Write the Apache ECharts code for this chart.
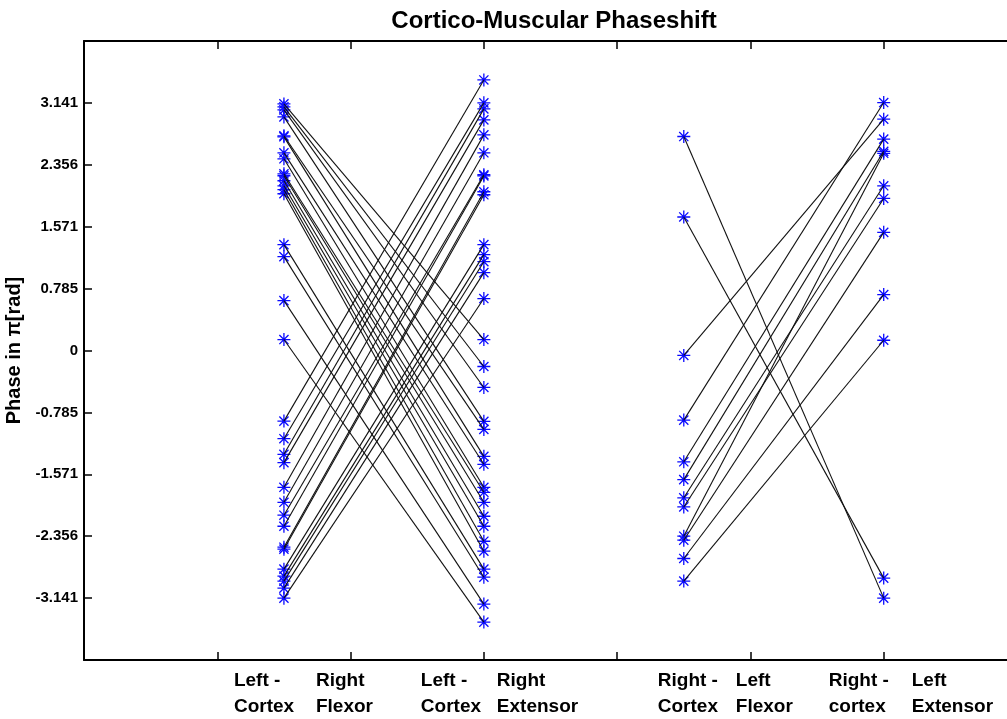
<!DOCTYPE html>
<html>
<head>
<meta charset="utf-8">
<script src="https://cdn.jsdelivr.net/npm/echarts@6/dist/echarts.min.js"></script>
<style>
  html, body { margin: 0; padding: 0; background: #fff; }
  #c { width: 1007px; height: 719px; }
</style>
</head>
<body>
<div id="c"></div>
<script>
// ---- data ----
const columnX = [1.5, 3, 4.5, 6];
const cortexLabels = [['Left -', 'Cortex'], ['Left -', 'Cortex'], ['Right -', 'Cortex'], ['Right -', 'cortex']];
const muscleLabels = [['Right', 'Flexor'], ['Right', 'Extensor'], ['Left', 'Flexor'], ['Left', 'Extensor']];
const yTickLabels = ['-3.141', '-2.356', '-1.571', '-0.785', '0', '0.785', '1.571', '2.356', '3.141'];

// Left cortex: phase with right flexor -> phase with right extensor (same subject, paired)
const leftCortexRightFlexor = [3.129, 3.091, 3.053, 2.964, 2.724, 2.711, 2.508, 2.432, 2.242, 2.217, 2.154, 2.090, 2.040, 1.989, 1.343, 1.191, 0.633, 0.139,
  -0.896, -1.119, -1.317, -1.423, -1.736, -1.926, -2.090, -2.230, -2.496, -2.521, -2.774, -2.863, -2.926, -3.015, -3.142];
const leftCortexRightExtensor = [0.139, -0.203, -0.469, -0.899, -1.001, -1.343, -1.444, -1.736, -1.799, -1.926, -2.103, -2.230, -2.420, -2.546, -2.774, -2.876, -3.218, -3.446,
  3.433, 3.142, 3.066, 2.926, 2.736, 2.508, 2.230, 2.215, 2.014, 1.976, 1.343, 1.216, 1.127, 0.988, 0.659];

// Right cortex: phase with left flexor -> phase with left extensor
const rightCortexLeftFlexor = [2.715, 1.694, -0.063, -0.883, -1.412, -1.638, -1.869, -1.985, -2.356, -2.407, -2.639, -2.926];
const rightCortexLeftExtensor = [-3.142, -2.888, 2.935, 3.146, 2.682, 2.527, 2.090, 1.929, 2.502, 1.499, 0.709, 0.130];

// ---- build ----
const Q = Math.PI / 4;
const ASTERISK = 'path://M0 10.8L24 10.8L24 13.2L0 13.2ZM10.8 0L13.2 0L13.2 24L10.8 24ZM2.7 4.4L4.4 2.7L21.3 19.6L19.6 21.3ZM19.6 2.7L21.3 4.4L4.4 21.3L2.7 19.6Z';

function pairs(a, b, xa, xb) {
  return a.map((v, i) => ({ coords: [[xa, v], [xb, b[i]]] }));
}
const lineData = pairs(leftCortexRightFlexor, leftCortexRightExtensor, columnX[0], columnX[1])
  .concat(pairs(rightCortexLeftFlexor, rightCortexLeftExtensor, columnX[2], columnX[3]));

const pointData = []
  .concat(leftCortexRightFlexor.map(v => [columnX[0], v]))
  .concat(leftCortexRightExtensor.map(v => [columnX[1], v]))
  .concat(rightCortexLeftFlexor.map(v => [columnX[2], v]))
  .concat(rightCortexLeftExtensor.map(v => [columnX[3], v]));

const FONT = 'Liberation Sans, Arial, sans-serif';
const boxAxisLine = { show: true, onZero: false, lineStyle: { color: '#000', width: 2 } };
const boxTick = { show: true, inside: true, length: 8, lineStyle: { color: '#000', width: 1.5 } };

const spacer = [72, 40, 116, 63];
const colA = [82, 76, 78, 83];
const tok = { fontFamily: FONT, fontWeight: 'bold', fontSize: 19, color: '#000', lineHeight: 26, align: 'left' };
const rich = { b: Object.assign({ width: 90 }, tok) };
for (let i = 0; i < 4; i++) {
  rich['s' + i] = Object.assign({ width: spacer[i] }, tok);
  rich['a' + i] = Object.assign({ width: colA[i] }, tok);
}

const xBase = { type: 'value', min: 0, max: 7, interval: 1, splitLine: { show: false } };
const yBase = { type: 'value', min: -5 * Q, max: 5 * Q, interval: Q, splitLine: { show: false } };

const option = {
  backgroundColor: '#fff',
  animation: false,
  title: {
    text: 'Cortico-Muscular Phaseshift',
    left: 549, top: 4, textAlign: 'center',
    textStyle: { fontFamily: FONT, fontWeight: 'bold', fontSize: 24, color: '#000' }
  },
  grid: { left: 84, top: 41, right: -10, bottom: 59, containLabel: false, outerBoundsMode: 'none' },
  xAxis: [
    Object.assign({}, xBase, { position: 'bottom', axisLine: boxAxisLine, axisTick: boxTick, axisLabel: { show: false } }),
    Object.assign({}, xBase, { position: 'top', axisLine: boxAxisLine, axisTick: boxTick, axisLabel: { show: false } }),
    {
      type: 'value', min: 0, max: 7, interval: 1.5, position: 'bottom',
      splitLine: { show: false }, axisLine: { show: false, onZero: false }, axisTick: { show: false },
      axisLabel: {
        show: true, margin: 8, hideOverlap: false, showMinLabel: true, showMaxLabel: true,
        formatter: function (v) {
          const i = columnX.findIndex(p => Math.abs(p - v) < 1e-6);
          if (i < 0) return '';
          const c = cortexLabels[i], m = muscleLabels[i];
          return '{s' + i + '| }{a' + i + '|' + c[0] + '}{b|' + m[0] + '}\n{s' + i + '| }{a' + i + '|' + c[1] + '}{b|' + m[1] + '}';
        },
        rich: rich
      }
    }
  ],
  yAxis: [
    Object.assign({}, yBase, {
      position: 'left', axisLine: boxAxisLine, axisTick: boxTick,
      name: 'Phase in \u03c0[rad]', nameLocation: 'middle', nameGap: 51,
      nameTextStyle: { fontFamily: FONT, fontWeight: 'bold', fontSize: 20, color: '#000' },
      axisLabel: {
        show: true, margin: 6, fontFamily: FONT, fontWeight: 'bold', fontSize: 15, color: '#000',
        formatter: function (v) {
          const k = Math.round(v / Q);
          if (k < -4 || k > 4) return '';
          return yTickLabels[k + 4];
        }
      }
    }),
    Object.assign({}, yBase, { position: 'right', axisLine: boxAxisLine, axisTick: boxTick, axisLabel: { show: false } })
  ],
  series: [
    {
      type: 'scatter', xAxisIndex: 0, yAxisIndex: 0,
      data: pointData, symbol: ASTERISK, symbolSize: 13,
      itemStyle: { color: '#0a0aff', opacity: 1 }, z: 2, silent: true
    },
    {
      type: 'lines', coordinateSystem: 'cartesian2d', xAxisIndex: 0, yAxisIndex: 0,
      data: lineData, polyline: false,
      lineStyle: { color: '#111', width: 1.1, opacity: 1, curveness: 0 },
      z: 3, silent: true
    }
  ]
};

const chart = echarts.init(document.getElementById('c'), null, { renderer: 'canvas' });
chart.setOption(option);
</script>
</body>
</html>
